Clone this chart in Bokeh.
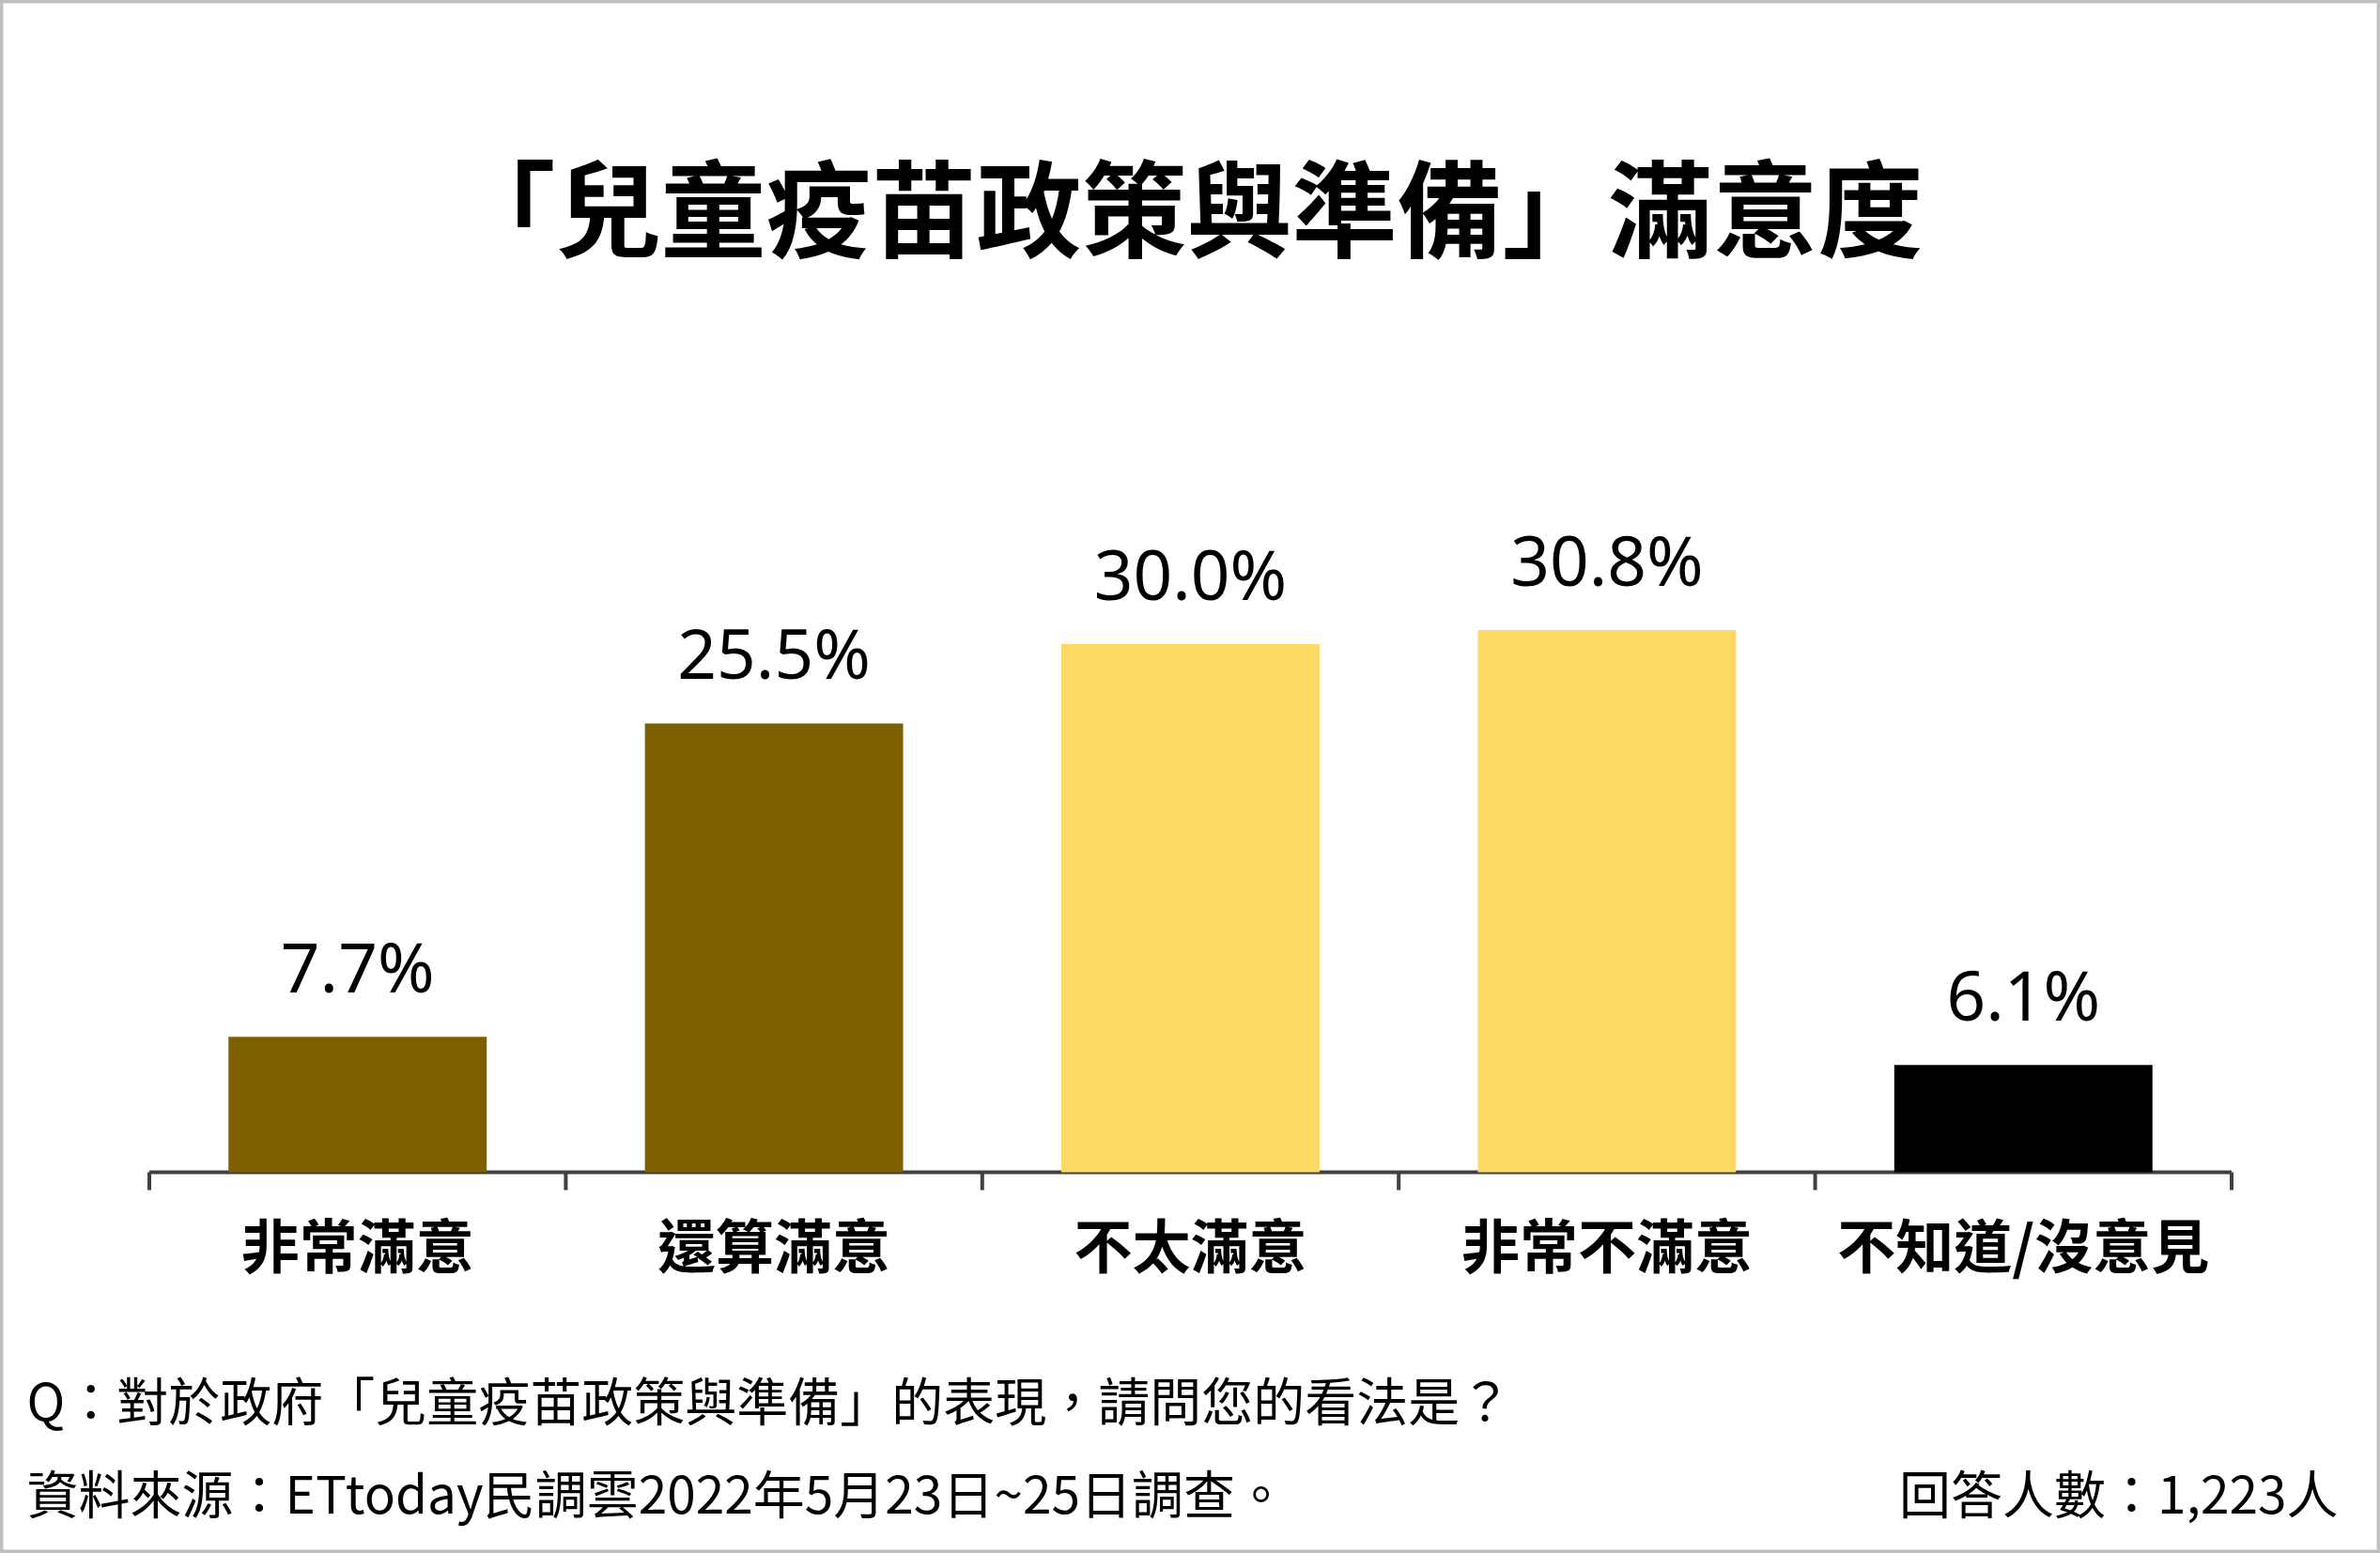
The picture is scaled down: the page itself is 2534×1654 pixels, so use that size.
from bokeh.plotting import figure
from bokeh.models import ColumnDataSource, LabelSet, Label, Range1d, FactorRange
from bokeh.core.properties import value
from bokeh.embed import file_html
from bokeh.resources import INLINE

# ---- data ----
categories = ["非常滿意", "還算滿意", "不太滿意", "非常不滿意", "不知道/沒意見"]
values = [7.7, 25.5, 30.0, 30.8, 6.1]
value_labels = ["7.7%", "25.5%", "30.0%", "30.8%", "6.1%"]
bar_colors = ["#7F6000", "#7F6000", "#FFD966", "#FFD966", "#000000"]
title_text = "「兒童疫苗政策與準備」滿意度"
question_text = "Q：對於政府「兒童疫苗政策與準備」的表現，請問您的看法是？"
source_text = "資料來源：ETtoday民調雲2022年5月23日~25日調查。"
sample_text = "回答人數：1,223人"

# ---- layout constants (pixels) ----
W, H = 2534, 1654
PX_PER_UNIT = 18.75          # pixels per percentage point
AXIS_Y = 1248                # canvas y of the baseline (from top)
CAT_PX = 443.4               # width of one category slot
SIDE_PAD = (W - CAT_PX * len(categories)) / 2 / CAT_PX   # per-side padding, category units
Y_MAX = AXIS_Y / PX_PER_UNIT
Y_MIN = -(H - AXIS_Y) / PX_PER_UNIT

CJK = "Noto Sans CJK TC"
LAT = "Noto Sans"
AXIS_COLOR = "#404040"

src = ColumnDataSource(dict(cat=categories, val=values, lbl=value_labels, color=bar_colors))

p = figure(width=W, height=H,
           x_range=FactorRange(*categories, range_padding=SIDE_PAD, range_padding_units="absolute"),
           y_range=Range1d(Y_MIN, Y_MAX),
           output_backend="svg", toolbar_location=None,
           x_axis_location=None, y_axis_location=None,
           min_border_left=0, min_border_right=0, min_border_top=0, min_border_bottom=0)
p.xgrid.visible = False
p.ygrid.visible = False
p.background_fill_color = "white"
p.border_fill_color = "white"
p.outline_line_color = "#BFBFBF"
p.outline_line_width = 6

# baseline and category-boundary ticks
bounds = [(c, -0.5) for c in categories] + [(categories[-1], 0.5)]
p.segment(x0=[bounds[0]], y0=[0], x1=[bounds[-1]], y1=[0],
          line_color=AXIS_COLOR, line_width=4)
p.segment(x0=bounds, y0=[0] * len(bounds), x1=bounds, y1=[-19 / PX_PER_UNIT] * len(bounds),
          line_color=AXIS_COLOR, line_width=4)

# bars
p.vbar(x="cat", top="val", width=0.62, color="color", line_color=None, source=src)

# value labels
p.add_layout(LabelSet(x="cat", y="val", text="lbl", source=src, text_align="center",
                      text_baseline="alphabetic", y_offset=47,
                      text_font=value(LAT), text_font_size=value("73px"), text_color="#000000"))

# category labels
p.add_layout(LabelSet(x="cat", y=H - 1323, y_units="screen", text="cat", source=src,
                      text_align="center", text_baseline="middle",
                      text_font=value(CJK), text_font_style=value("bold"),
                      text_font_size=value("62px"), text_color="#000000"))

# title & footer (screen units, frame == whole canvas)
p.add_layout(Label(x=W / 2 - 4, y=H - 216, x_units="screen", y_units="screen",
                   text=title_text, text_align="center", text_baseline="middle",
                   text_font=CJK, text_font_style="bold", text_font_size="112px", text_color="#000000"))
p.add_layout(Label(x=28, y=H - 1488, x_units="screen", y_units="screen",
                   text=question_text, text_align="left", text_baseline="middle",
                   text_font=CJK, text_font_size="55px", text_color="#000000"))
p.add_layout(Label(x=28, y=H - 1587, x_units="screen", y_units="screen",
                   text=source_text, text_align="left", text_baseline="middle",
                   text_font=CJK, text_font_size="55px", text_color="#000000"))
p.add_layout(Label(x=2489, y=H - 1587, x_units="screen", y_units="screen",
                   text=sample_text, text_align="right", text_baseline="middle",
                   text_font=CJK, text_font_size="55px", text_color="#000000"))

open("out.html", "w").write(file_html(p, INLINE))
